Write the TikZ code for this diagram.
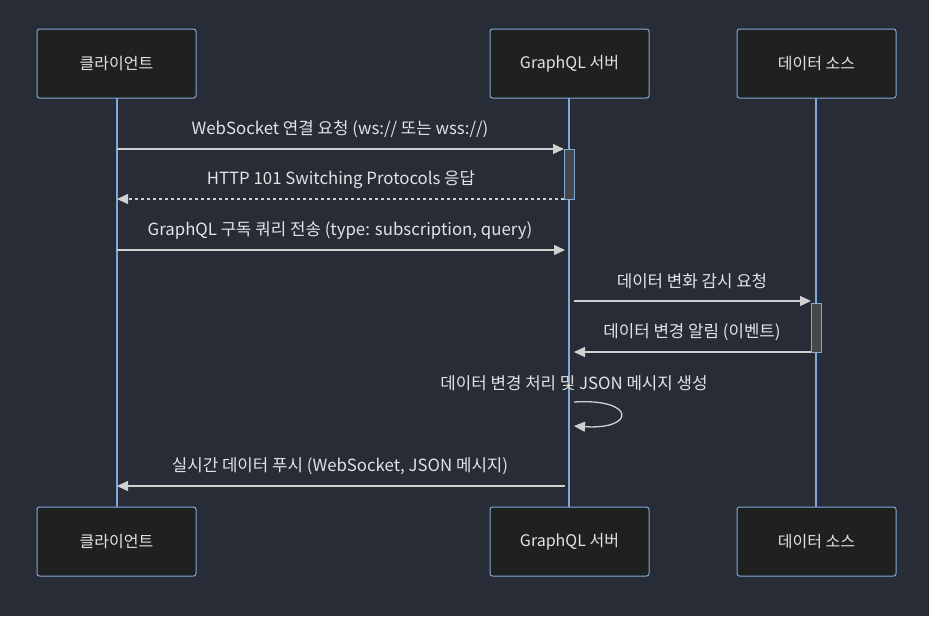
\documentclass[tikz,border=0pt]{standalone}
\usepackage{fontspec}
\setmainfont{Noto Sans CJK KR}
\usetikzlibrary{arrows.meta}
\definecolor{bg}{HTML}{282C37}
\definecolor{boxfill}{HTML}{1F2020}
\definecolor{edge}{HTML}{81A9D6}
\definecolor{txt}{HTML}{E3E3E3}
\definecolor{msg}{HTML}{D0D0D0}
\definecolor{act}{HTML}{474747}
\tikzset{
  actor/.style={draw=edge, fill=boxfill, line width=1pt, rounded corners=2.5pt, minimum width=159pt, minimum height=69pt, text=txt, font=\fontsize{16}{18}\selectfont, inner sep=0pt},
  life/.style={draw=edge, line width=1.5pt},
  msgline/.style={draw=msg, line width=1.3pt, -{Triangle[length=11pt,width=10pt]}},
  lbl/.style={text=txt, font=\fontsize{16.8}{19}\selectfont, inner sep=0pt},
  actbox/.style={draw=edge, fill=act, line width=1pt}
}
\begin{document}
\begin{tikzpicture}[x=1pt,y=-1pt]
\fill[bg] (0,0) rectangle (929,616);
\useasboundingbox (0,0) rectangle (929,616);
% lifelines
\draw[life] (117,98) -- (117,507);
\draw[life] (569,98) -- (569,507);
\draw[life] (816,98) -- (816,507);
% actors
\node[actor] (c1) at (116.5,63.5) {클라이언트};
\node[actor] (g1) at (569.5,63.5) {GraphQL 서버};
\node[actor] (d1) at (816.5,63.5) {데이터 소스};
\node[actor] (c2) at (116.5,541.5) {클라이언트};
\node[actor] (g2) at (569.5,541.5) {GraphQL 서버};
\node[actor] (d2) at (816.5,541.5) {데이터 소스};
% activations
\node[actbox, minimum width=10pt, minimum height=50pt, inner sep=0pt, anchor=north west] (ga) at (564,149) {};
\node[actbox, minimum width=10pt, minimum height=49pt, inner sep=0pt, anchor=north west] (da) at (811,303) {};
% coordinates
\coordinate (c149) at (117,149);
\coordinate (c199) at (117,199);
\coordinate (c250) at (117,250);
\coordinate (c486) at (117,486);
\coordinate (g149) at (564,149);
\coordinate (g199) at (564,199);
\coordinate (g250) at (565,250);
\coordinate (g301) at (574,301);
\coordinate (g352) at (574,352);
\coordinate (g486) at (565,486);
\coordinate (d301) at (811,301);
\coordinate (d352) at (811,352);
\coordinate (s1) at (574,402);
\coordinate (s2) at (574,426);
% messages
\draw[msgline] (c149) -- (g149);
\node[lbl] (l1) at (340,129) {WebSocket 연결 요청 (ws:// 또는 wss://)};
\draw[msgline, dashed, dash pattern=on 3pt off 3pt] (g199) -- (c199);
\node[lbl] (l2) at (341,180) {HTTP 101 Switching Protocols 응답};
\draw[msgline] (c250) -- (g250);
\node[lbl] (l3) at (340,231) {GraphQL 구독 쿼리 전송 (type: subscription, query)};
\draw[msgline] (g301) -- (d301);
\node[lbl] (l4) at (692,281) {데이터 변화 감시 요청};
\draw[msgline] (d352) -- (g352);
\node[lbl] (l5) at (692,332) {데이터 변경 알림 (이벤트)};
\node[lbl] (l6) at (574,383) {데이터 변경 처리 및 JSON 메시지 생성};
\draw[msgline] (s1) .. controls (636,398) and (636,430) .. (s2);
\draw[msgline] (g486) -- (c486);
\node[lbl] (l7) at (340,466) {실시간 데이터 푸시 (WebSocket, JSON 메시지)};
\end{tikzpicture}
\end{document}
